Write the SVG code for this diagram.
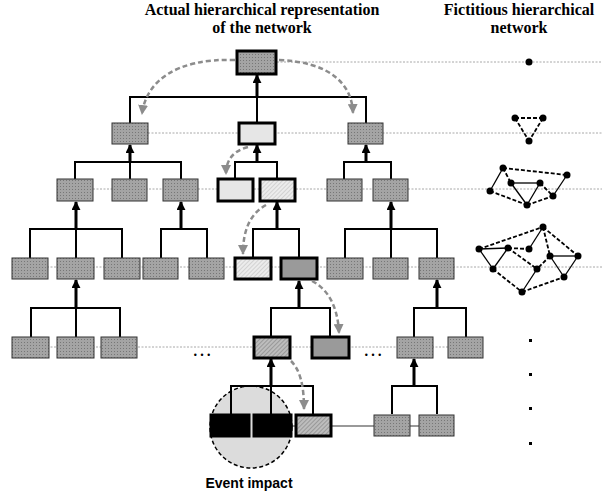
<svg xmlns="http://www.w3.org/2000/svg" width="602" height="495" viewBox="0 0 602 495">
<style>
.title{font-family:"Liberation Serif","Times New Roman",serif;font-weight:bold;font-size:16px;text-anchor:middle;fill:#000}
.lbl{font-family:"Liberation Sans",Arial,sans-serif;font-weight:bold;font-size:14px;text-anchor:middle;fill:#000}
.ell{font-family:"Liberation Serif","Times New Roman",serif;font-size:20px;text-anchor:middle;fill:#000}
.lvl{stroke:#a8a8a8;stroke-width:1;stroke-dasharray:2,1.5;fill:none}
.c{stroke:#000;stroke-width:2;fill:none}
.a{stroke:#000;stroke-width:3;fill:none;marker-end:url(#ah)}
.n{fill:url(#dot);stroke:#333;stroke-width:1}
.t{stroke:#000;stroke-width:3}
.cur{stroke:#8c8c8c;stroke-width:2.5;stroke-dasharray:5,3;fill:none;marker-end:url(#gh)}
.es{stroke:#000;stroke-width:1.3}
.ed{stroke:#000;stroke-width:1.8;stroke-dasharray:4,2}
.v{fill:#000}
</style>
<defs>
<pattern id="dot" width="3" height="3" patternUnits="userSpaceOnUse"><rect width="3" height="3" fill="#a4a4a4"/><rect width="1" height="1" fill="#777"/></pattern>
<pattern id="hL" width="3" height="3" patternUnits="userSpaceOnUse" patternTransform="rotate(45)"><rect width="3" height="3" fill="#ececec"/><rect width="1" height="3" fill="#d2d2d2"/></pattern>
<pattern id="hM" width="3" height="3" patternUnits="userSpaceOnUse" patternTransform="rotate(45)"><rect width="3" height="3" fill="#bdbdbd"/><rect width="1" height="3" fill="#999"/></pattern>
<marker id="ah" viewBox="0 0 10 10" refX="9" refY="5" markerWidth="9" markerHeight="9" markerUnits="userSpaceOnUse" orient="auto"><path d="M0,0 L10,5 L0,10 Z" fill="#000"/></marker>
<marker id="gh" viewBox="0 0 10 10" refX="9" refY="5" markerWidth="10" markerHeight="10" markerUnits="userSpaceOnUse" orient="auto"><path d="M0,0 L10,5 L0,10 Z" fill="#8c8c8c"/></marker>
</defs>

<g id="titles">
<text class="title" x="262" y="15">Actual hierarchical representation</text>
<text class="title" x="262" y="33">of the network</text>
<text class="title" x="519" y="15">Fictitious hierarchical</text>
<text class="title" x="519" y="33">network</text>
</g>

<g id="levels">
<line class="lvl" x1="277" y1="62" x2="602" y2="62"/>
<line class="lvl" x1="148" y1="133" x2="602" y2="133"/>
<line class="lvl" x1="93" y1="189" x2="602" y2="189"/>
<line class="lvl" x1="12" y1="267" x2="602" y2="267"/>
<line class="lvl" x1="12" y1="347" x2="448" y2="347"/>
<line x1="292" y1="426" x2="454" y2="426" stroke="#999" stroke-width="1.8"/>
</g>

<g id="event-circle">
<circle cx="251" cy="427" r="41" fill="#dcdcdc" stroke="#000" stroke-width="1.5" stroke-dasharray="4,2.5"/>
</g>

<g id="connectors">
<polyline class="c" points="130,123 130,97 366,97 366,123"/>
<line class="c" x1="257" y1="97" x2="257" y2="123"/>
<line class="a" x1="257" y1="97" x2="257" y2="75"/>
<polyline class="c" points="75,179 75,162 181,162 181,179"/>
<line class="c" x1="130" y1="162" x2="130" y2="179"/>
<line class="a" x1="130" y1="162" x2="130" y2="145"/>
<polyline class="c" points="235,179 235,162 277,162 277,179"/>
<line class="a" x1="257" y1="162" x2="257" y2="145"/>
<polyline class="c" points="344,179 344,162 391,162 391,179"/>
<line class="a" x1="366" y1="162" x2="366" y2="145"/>
<polyline class="c" points="30,258 30,229 122,229 122,258"/>
<line class="c" x1="76" y1="229" x2="76" y2="258"/>
<line class="a" x1="76" y1="229" x2="76" y2="202"/>
<polyline class="c" points="161,258 161,229 207,229 207,258"/>
<line class="a" x1="181" y1="229" x2="181" y2="202"/>
<polyline class="c" points="253,258 253,229 299,229 299,258"/>
<line class="a" x1="277" y1="229" x2="277" y2="202"/>
<polyline class="c" points="345,258 345,229 437,229 437,258"/>
<line class="c" x1="391" y1="229" x2="391" y2="258"/>
<line class="a" x1="391" y1="229" x2="391" y2="202"/>
<polyline class="c" points="31,337 31,308 120,308 120,337"/>
<line class="c" x1="76" y1="308" x2="76" y2="337"/>
<line class="a" x1="76" y1="308" x2="76" y2="280"/>
<polyline class="c" points="271,336 271,308 330,308 330,336"/>
<line class="a" x1="299" y1="308" x2="299" y2="281"/>
<polyline class="c" points="414,337 414,308 466,308 466,337"/>
<line class="a" x1="437" y1="308" x2="437" y2="280"/>
<polyline class="c" points="231,414 231,386 313,386 313,414"/>
<line class="c" x1="271" y1="386" x2="271" y2="414"/>
<line class="a" x1="271" y1="386" x2="271" y2="359"/>
<polyline class="c" points="392,414 392,386 437,386 437,414"/>
<line class="a" x1="414" y1="386" x2="414" y2="359"/>
</g>

<g id="nodes">
<g id="root"><rect class="n t" x="237" y="51" width="39" height="23"/></g>
<g id="l1a"><rect class="n" x="112" y="123" width="36" height="21"/></g>
<g id="l1b"><rect class="t" fill="#e6e6e6" x="239" y="123" width="36" height="21"/></g>
<g id="l1c"><rect class="n" x="348" y="123" width="35" height="21"/></g>

<g id="l2a"><rect class="n" x="57" y="179" width="36" height="22"/></g>
<g id="l2b"><rect class="n" x="112" y="179" width="35" height="22"/></g>
<g id="l2c"><rect class="n" x="163" y="179" width="35" height="22"/></g>
<g id="l2d"><rect class="t" fill="#e6e6e6" x="218" y="179" width="35" height="22"/></g>
<g id="l2e"><rect class="t" fill="url(#hL)" x="260" y="179" width="35" height="22"/></g>
<g id="l2f"><rect class="n" x="327" y="179" width="35" height="22"/></g>
<g id="l2g"><rect class="n" x="373" y="179" width="35" height="22"/></g>

<g id="l3a"><rect class="n" x="12" y="258" width="36" height="21"/></g>
<g id="l3b"><rect class="n" x="57" y="258" width="37" height="21"/></g>
<g id="l3c"><rect class="n" x="104" y="258" width="36" height="21"/></g>
<g id="l3d"><rect class="n" x="143" y="258" width="35" height="21"/></g>
<g id="l3e"><rect class="n" x="189" y="258" width="35" height="21"/></g>
<g id="l3f"><rect class="t" fill="url(#hL)" x="235" y="258" width="36" height="21"/></g>
<g id="l3g"><rect class="t" fill="#9a9a9a" x="281" y="258" width="36" height="21"/></g>
<g id="l3h"><rect class="n" x="327" y="258" width="36" height="21"/></g>
<g id="l3i"><rect class="n" x="373" y="258" width="35" height="21"/></g>
<g id="l3j"><rect class="n" x="419" y="258" width="35" height="21"/></g>

<g id="l4a"><rect class="n" x="12" y="337" width="37" height="21"/></g>
<g id="l4b"><rect class="n" x="57" y="337" width="37" height="21"/></g>
<g id="l4c"><rect class="n" x="101" y="337" width="36" height="21"/></g>
<g id="l4d"><rect class="t" fill="url(#hM)" x="254" y="337" width="36" height="21"/></g>
<g id="l4e"><rect class="t" fill="#9a9a9a" x="312" y="337" width="37" height="21"/></g>
<g id="l4f"><rect class="n" x="397" y="337" width="36" height="21"/></g>
<g id="l4g"><rect class="n" x="448" y="337" width="35" height="21"/></g>

<g id="l5a"><rect fill="#000" stroke="#000" x="210" y="414" width="40" height="23"/></g>
<g id="l5b"><rect fill="#000" stroke="#000" x="253" y="414" width="39" height="23"/></g>
<g id="l5c"><rect class="t" fill="url(#hM)" x="296" y="415" width="35" height="21"/></g>
<g id="l5d"><rect class="n" x="374" y="415" width="36" height="21"/></g>
<g id="l5e"><rect class="n" x="419" y="415" width="35" height="21"/></g>
</g>

<g id="impact-arrows">
<path class="cur" d="M235,60 C175,58 146,82 142,114"/>
<path class="cur" d="M279,60 C330,62 352,84 353,113"/>
<path class="cur" d="M248,147 C233,151 226,160 226,174"/>
<path class="cur" d="M266,205 C250,214 243,230 243,254"/>
<path class="cur" d="M312,281 C330,290 338,310 339,333"/>
<path class="cur" d="M291,361 C300,370 304,385 304,409"/>
</g>

<g id="labels">
<text class="ell" x="202" y="356">…</text>
<text class="ell" x="373" y="356">…</text>
<text class="lbl" x="249" y="488">Event impact</text>
</g>

<g id="fictitious">
<circle class="v" cx="529" cy="62" r="3.5"/>
<g id="net1">
<line class="ed" x1="515" y1="118" x2="543" y2="118"/>
<line class="ed" x1="515" y1="118" x2="529" y2="141"/>
<line class="ed" x1="543" y1="118" x2="529" y2="141"/>
<circle class="v" cx="515" cy="118" r="3.5"/>
<circle class="v" cx="543" cy="118" r="3.5"/>
<circle class="v" cx="529" cy="141" r="3.5"/>
</g>
<g id="net2">
<line class="es" x1="503" y1="168" x2="490" y2="191"/>
<line class="ed" x1="503" y1="168" x2="567" y2="175"/>
<line class="ed" x1="503" y1="168" x2="511" y2="183"/>
<line class="es" x1="511" y1="183" x2="540" y2="183"/>
<line class="es" x1="511" y1="183" x2="527" y2="205"/>
<line class="es" x1="540" y1="183" x2="527" y2="205"/>
<line class="ed" x1="540" y1="183" x2="553" y2="196"/>
<line class="ed" x1="490" y1="191" x2="527" y2="205"/>
<line class="ed" x1="527" y1="205" x2="553" y2="196"/>
<line class="es" x1="553" y1="196" x2="567" y2="175"/>
<circle class="v" cx="503" cy="168" r="3.5"/>
<circle class="v" cx="567" cy="175" r="3.5"/>
<circle class="v" cx="511" cy="183" r="3.5"/>
<circle class="v" cx="540" cy="183" r="3.5"/>
<circle class="v" cx="490" cy="191" r="3.5"/>
<circle class="v" cx="553" cy="196" r="3.5"/>
<circle class="v" cx="527" cy="205" r="3.5"/>
</g>
<g id="net3">
<line class="ed" x1="479" y1="249" x2="543" y2="227"/>
<line class="es" x1="479" y1="249" x2="508" y2="248"/>
<line class="ed" x1="508" y1="248" x2="529" y2="249"/>
<line class="es" x1="529" y1="249" x2="543" y2="227"/>
<line class="ed" x1="543" y1="227" x2="550" y2="256"/>
<line class="ed" x1="543" y1="227" x2="578" y2="256"/>
<line class="es" x1="550" y1="256" x2="578" y2="256"/>
<line class="es" x1="550" y1="256" x2="564" y2="277"/>
<line class="es" x1="578" y1="256" x2="564" y2="277"/>
<line class="ed" x1="550" y1="256" x2="537" y2="269"/>
<line class="es" x1="479" y1="249" x2="493" y2="269"/>
<line class="es" x1="493" y1="269" x2="508" y2="248"/>
<line class="ed" x1="508" y1="248" x2="537" y2="269"/>
<line class="ed" x1="493" y1="269" x2="522" y2="292"/>
<line class="es" x1="537" y1="269" x2="522" y2="292"/>
<line class="ed" x1="522" y1="292" x2="564" y2="277"/>
<circle class="v" cx="479" cy="249" r="3.5"/>
<circle class="v" cx="508" cy="248" r="3.5"/>
<circle class="v" cx="529" cy="249" r="3.5"/>
<circle class="v" cx="543" cy="227" r="3.5"/>
<circle class="v" cx="550" cy="256" r="3.5"/>
<circle class="v" cx="578" cy="256" r="3.5"/>
<circle class="v" cx="493" cy="269" r="3.5"/>
<circle class="v" cx="537" cy="269" r="3.5"/>
<circle class="v" cx="564" cy="277" r="3.5"/>
<circle class="v" cx="522" cy="292" r="3.5"/>
</g>
<rect class="v" x="529" y="339" width="3" height="3"/>
<rect class="v" x="529" y="373" width="3" height="3"/>
<rect class="v" x="529" y="407" width="3" height="3"/>
<rect class="v" x="529" y="442" width="3" height="3"/>
</g>
</svg>
